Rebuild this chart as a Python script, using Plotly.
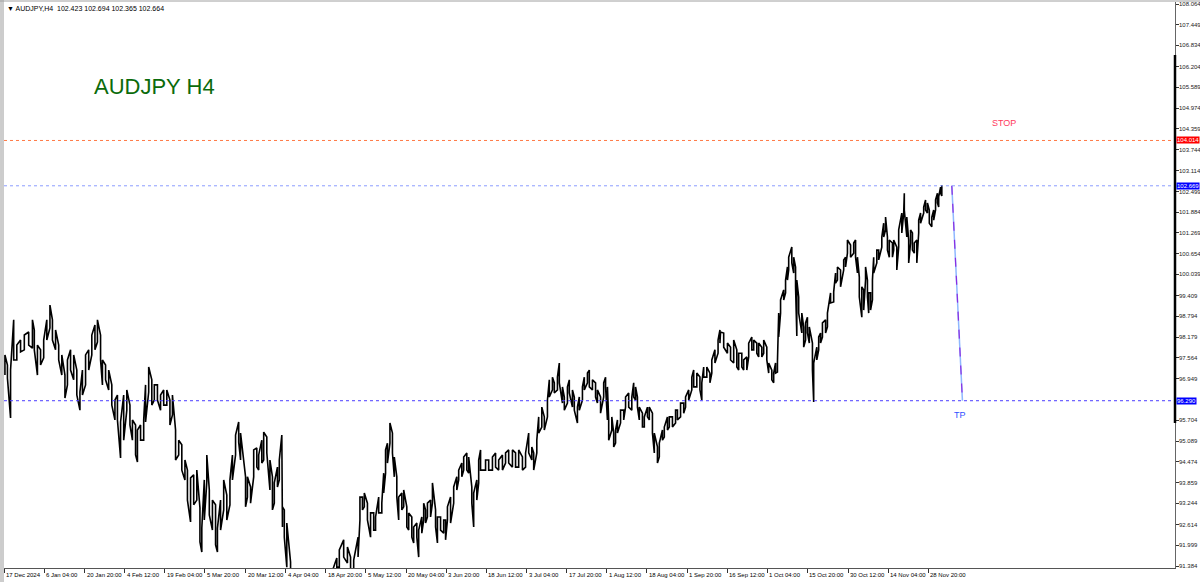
import plotly.graph_objects as go

# ---------------- data ----------------
symbol_title = "AUDJPY H4"
header_text = "AUDJPY,H4  102.423 102.694 102.365 102.664"

# H4 bar number of each sampled stretch of bars, with its high / low price
bar = [1, 5, 10, 15, 20, 26, 32, 39, 45, 48, 53, 58, 63, 68, 73, 77, 82, 87, 92, 97,
       101, 106, 111, 116, 121, 125, 130, 135, 140, 145, 149, 154, 157, 162, 167, 172, 177, 181, 186, 191,
       196, 201, 205, 210, 213, 218, 223, 226, 231, 236, 240, 245, 250, 255, 260, 265, 269, 274, 279, 284,
       289, 293, 298, 303, 308, 313, 316, 320, 324, 328, 333, 338, 341, 346, 351, 356, 361, 365, 370, 375,
       378, 386, 389, 394, 399, 404, 407, 412, 415, 420, 425, 429, 432, 437, 440, 444, 445, 448, 452,
       458, 464, 470, 478, 486, 494, 502, 510, 518, 526,
       532, 536, 543, 549, 554, 559, 566, 569, 573, 576, 581, 586, 591, 594, 599, 604, 607, 610, 613, 617,
       621, 624, 628, 631, 636, 639, 644, 647, 652, 655, 660, 663, 668, 671, 674, 677, 682, 685, 690, 693,
       698, 703, 706, 709, 714, 719, 724, 727, 732, 735, 740, 743, 748, 751, 756, 759,
       762, 770, 775, 781, 786, 791, 797, 802, 807, 813, 818, 823, 829, 834, 839, 844, 847, 852, 855, 860,
       864, 869, 872, 877, 880, 885, 888, 893, 896, 901, 904, 909, 912, 917, 920, 925, 928, 933, 936, 941,
       946, 949, 954, 959, 962, 965, 967, 972, 975, 978, 981, 986, 991, 994, 999, 1004, 1007, 1010, 1013, 1016,
       1021, 1024, 1029, 1032, 1037, 1040, 1045, 1048, 1053, 1056, 1061, 1064, 1069, 1074, 1077, 1082, 1087, 1090, 1095, 1100,
       1103, 1108, 1113, 1116, 1119, 1124, 1129, 1132, 1137, 1142, 1145,
       1146, 1151, 1157, 1162, 1167, 1172, 1175, 1180, 1183, 1188, 1191, 1196, 1199, 1204, 1207, 1212, 1215, 1220, 1223, 1228,
       1231, 1234, 1237, 1239, 1242, 1247, 1250, 1253, 1255, 1260, 1263, 1266, 1268, 1271, 1276, 1279, 1282, 1285, 1288, 1293,
       1295, 1300, 1303, 1306, 1309, 1314, 1317, 1322, 1327, 1330, 1333, 1338, 1343, 1346, 1349, 1354, 1359, 1362, 1365, 1368,
       1372, 1375, 1378, 1381, 1383, 1386, 1389, 1391, 1396, 1399, 1404, 1407, 1410, 1413, 1416, 1421, 1423, 1428, 1431, 1436,
       1439, 1440, 1444, 1447, 1450, 1453, 1456, 1460, 1463, 1466, 1471, 1474, 1477, 1480, 1484, 1487, 1490, 1493, 1495, 1498, 1500]

high = [97.65, 97.35, 97.20, 98.69, 97.94, 98.09, 98.24, 98.33, 98.69, 98.39, 97.94, 97.80, 98.09, 98.69, 99.13, 98.69, 98.39, 97.94, 97.65, 97.05,
        97.50, 97.80, 97.65, 97.20, 96.55, 97.20, 97.65, 97.80, 98.24, 98.54, 98.69, 98.24, 97.50, 97.35, 97.20, 96.76, 96.31, 96.46, 95.66, 96.46,
        96.61, 96.16, 95.72, 95.57, 95.42, 95.57, 95.72, 96.76, 97.29, 96.91, 96.76, 96.76, 96.46, 96.61, 96.61, 96.31, 96.46, 95.42, 95.12, 94.98,
        94.53, 94.23, 94.00, 94.09, 94.23, 93.11, 92.51, 93.94, 94.68, 93.64, 93.34, 93.20, 92.51, 93.34, 93.94, 93.49, 93.94, 94.68, 95.27, 95.66,
        95.33, 94.03, 94.03, 93.73, 94.83, 94.89, 94.68, 95.12, 95.36, 95.21, 94.53, 94.03, 93.85, 94.32, 94.53, 95.27, 93.14, 93.05, 92.66,
        91.50, 90.20, 88.50, 89.00, 89.80, 90.50, 90.90, 91.00, 91.20, 91.30,
        91.62, 91.86, 92.16, 91.95, 91.65, 91.56, 92.24, 93.43, 93.43, 93.55, 93.25, 92.96, 92.96, 92.84, 93.43, 93.25, 94.14, 94.83, 95.03, 95.63,
        95.33, 94.62, 94.03, 93.43, 93.55, 93.64, 93.14, 92.96, 92.84, 92.54, 92.66, 92.45, 92.84, 93.25, 93.05, 93.25, 93.34, 93.85, 93.05, 92.84,
        92.84, 92.75, 92.75, 93.14, 93.43, 93.73, 94.03, 94.23, 94.44, 94.62, 94.74, 94.62, 93.73, 93.55, 93.94, 94.53,
        94.83, 94.53, 94.53, 94.62, 94.74, 94.53, 94.68, 94.74, 94.83, 94.83, 94.74, 94.83, 94.62, 94.74, 95.33, 94.92, 94.74, 95.12, 95.81, 96.10,
        95.81, 96.31, 96.91, 96.99, 96.82, 96.99, 97.41, 96.70, 96.40, 96.70, 96.91, 96.61, 96.40, 96.10, 96.40, 96.70, 96.99, 97.11, 97.20, 96.91,
        96.82, 96.61, 96.40, 96.82, 96.99, 96.70, 95.72, 95.81, 95.33, 95.42, 95.72, 96.01, 96.01, 96.40, 96.52, 96.40, 96.82, 96.70, 96.40, 96.10,
        95.92, 95.81, 96.10, 96.10, 95.92, 95.33, 94.92, 95.03, 95.42, 95.51, 95.81, 95.81, 95.81, 96.01, 96.01, 96.22, 96.22, 96.40, 96.61, 96.99,
        97.20, 97.11, 96.99, 96.82, 97.29, 97.29, 97.11, 97.50, 97.80, 98.09, 98.39,
        98.33, 98.30, 98.00, 97.88, 98.09, 97.80, 97.70, 97.70, 97.50, 97.59, 98.00, 98.18, 98.09, 98.00, 98.00, 97.88, 98.09, 97.88, 97.41, 97.20,
        97.11, 97.41, 97.44, 98.89, 99.28, 99.58, 99.87, 100.26, 100.55, 100.85, 100.55, 100.26, 99.87, 99.37, 98.89, 98.48, 98.60, 98.77, 98.48, 98.00,
        97.41, 97.88, 98.18, 98.30, 98.60, 98.69, 98.89, 99.49, 99.52, 100.08, 100.26, 100.17, 100.47, 100.55, 101.06, 100.91, 100.97, 101.06, 100.55, 99.96,
        99.67, 99.58, 100.26, 99.87, 99.49, 99.49, 99.87, 100.55, 100.76, 100.76, 101.15, 101.56, 101.74, 101.15, 101.06, 100.97, 101.06, 100.85, 101.36, 101.86,
        102.25, 102.45, 101.74, 101.06, 101.36, 101.27, 100.97, 101.06, 101.65, 101.86, 102.04, 102.25, 102.16, 101.95, 101.74, 101.95, 102.25, 102.45, 102.34, 102.63, 102.694]

low = [97.05, 96.96, 95.78, 97.50, 97.50, 97.74, 97.80, 97.94, 97.85, 97.80, 97.05, 97.35, 97.56, 98.09, 98.45, 98.09, 97.80, 97.50, 97.05, 96.37,
       96.76, 97.20, 96.91, 96.46, 96.01, 96.46, 96.76, 97.20, 97.65, 97.80, 98.03, 97.50, 96.76, 96.91, 96.61, 96.16, 95.72, 95.72, 94.59, 95.12,
       96.01, 95.57, 95.12, 94.68, 94.47, 95.12, 95.12, 95.66, 96.55, 96.16, 96.31, 96.31, 96.01, 96.16, 96.16, 95.57, 95.87, 94.53, 94.68, 94.23,
       93.94, 93.34, 92.69, 93.20, 93.34, 92.10, 91.80, 92.75, 93.88, 92.90, 92.45, 92.01, 91.80, 92.45, 93.05, 92.75, 93.20, 93.94, 94.68, 95.06,
       94.53, 93.14, 93.43, 93.25, 94.03, 94.32, 94.23, 94.44, 94.53, 94.74, 93.64, 93.05, 93.25, 93.73, 93.94, 93.85, 92.54, 92.24, 91.35,
       89.80, 88.00, 86.20, 87.00, 88.20, 89.20, 89.60, 90.00, 90.20, 90.40,
       91.35, 91.35, 91.65, 91.47, 91.20, 91.20, 91.65, 92.75, 93.05, 93.14, 92.75, 92.24, 92.45, 92.45, 92.96, 92.96, 93.55, 94.14, 94.44, 95.03,
       94.74, 94.03, 93.43, 92.75, 93.05, 93.14, 92.54, 92.45, 92.24, 92.07, 92.24, 91.65, 92.36, 92.75, 92.66, 92.84, 92.84, 93.25, 92.54, 92.07,
       92.45, 92.36, 92.16, 92.75, 92.66, 93.25, 93.64, 93.94, 94.03, 94.23, 94.23, 94.14, 93.25, 92.54, 93.34, 93.85,
       94.23, 94.23, 94.23, 94.23, 94.32, 94.23, 94.23, 94.44, 94.44, 94.32, 94.32, 94.32, 94.23, 94.32, 94.74, 94.53, 94.23, 94.74, 95.33, 95.51,
       95.42, 95.81, 96.40, 96.61, 96.52, 96.61, 96.82, 96.22, 96.01, 96.22, 96.52, 96.10, 96.01, 95.63, 96.01, 96.31, 96.61, 96.82, 96.70, 96.61,
       96.40, 96.22, 95.92, 96.40, 96.70, 95.72, 95.12, 95.42, 94.92, 95.03, 95.33, 95.63, 95.72, 96.10, 96.10, 96.01, 96.40, 96.31, 96.10, 95.72,
       95.51, 95.51, 95.81, 95.72, 95.33, 94.74, 94.44, 94.62, 95.12, 95.21, 95.42, 95.51, 95.51, 95.63, 95.72, 95.81, 95.92, 96.10, 96.31, 96.61,
       96.70, 96.70, 96.61, 96.31, 96.99, 96.99, 96.82, 97.11, 97.41, 97.70, 98.00,
       98.00, 97.88, 97.70, 97.50, 97.41, 97.29, 97.20, 97.29, 97.20, 97.20, 97.59, 97.80, 97.80, 97.70, 97.59, 97.59, 97.70, 97.50, 97.11, 96.91,
       96.82, 97.11, 97.14, 98.18, 98.89, 99.28, 99.49, 99.87, 100.17, 100.38, 100.08, 99.67, 98.21, 98.89, 98.30, 97.88, 98.09, 98.30, 98.00, 97.20,
       96.25, 97.50, 97.80, 98.00, 98.18, 98.30, 98.48, 99.19, 99.22, 99.78, 99.87, 99.67, 100.17, 100.26, 100.67, 100.55, 100.67, 100.55, 100.08, 99.37,
       98.77, 98.98, 99.87, 99.37, 98.89, 98.98, 99.28, 100.08, 100.38, 100.47, 100.85, 101.15, 101.36, 100.76, 100.55, 100.55, 100.76, 100.17, 100.85, 101.27,
       101.86, 101.95, 101.15, 100.38, 100.97, 100.76, 100.67, 100.38, 101.27, 101.56, 101.86, 101.95, 101.86, 101.56, 101.45, 101.65, 101.95, 102.16, 102.04, 102.45, 102.365]

# horizontal levels
stop_level = 104.014
entry_level = 102.669
tp_level = 96.290
# projected move (bar, price)
proj_bar = [1516, 1533]
proj_price = [102.669, 96.290]
stop_label_pos = (1599, 104.53)
tp_label_pos = (1529, 95.86)
# highlighted stretch of the price scale
scale_marker = (95.63, 106.55)

# price scale ticks
y_ticks = [108.064, 107.449, 106.834, 106.204, 105.589, 104.974, 104.359, 103.744, 103.114,
           102.499, 101.884, 101.269, 100.654, 100.039, 99.409, 98.794, 98.179, 97.564, 96.949,
           95.704, 95.089, 94.474, 93.859, 93.244, 92.614, 91.999, 91.384]
# time scale labels and the bar each one marks
time_labels = ["17 Dec 2024", "6 Jan 04:00", "20 Jan 20:00", "4 Feb 12:00", "19 Feb 04:00",
               "5 Mar 20:00", "20 Mar 12:00", "4 Apr 04:00", "18 Apr 20:00", "5 May 12:00",
               "20 May 04:00", "3 Jun 20:00", "18 Jun 12:00", "3 Jul 04:00", "17 Jul 20:00",
               "1 Aug 12:00", "18 Aug 04:00", "1 Sep 20:00", "16 Sep 12:00", "1 Oct 04:00",
               "15 Oct 20:00", "30 Oct 12:00", "14 Nov 04:00", "28 Nov 20:00"]
time_label_bars = [0, 64, 129, 193, 257, 321, 386, 450, 514, 578, 643, 707,
                   771, 836, 900, 964, 1028, 1093, 1157, 1221, 1285, 1350, 1414, 1478]

x_range = [-0.5, 1873.1]
y_range = [91.325, 108.124]

# ---------------- figure ----------------
FONT = "Liberation Sans"
fig = go.Figure()

# price path: vertical high-low stroke at every sample, joined alternately
px, py = [], []
for i, (b, h, l) in enumerate(zip(bar, high, low)):
    px += [b, b]
    py += ([l, h] if i % 2 == 0 else [h, l])
fig.add_trace(go.Scatter(x=px, y=py, mode="lines", line=dict(color="black", width=1.6),
                         hoverinfo="skip", showlegend=False))

# horizontal levels
for lvl, col in [(stop_level, "#ff7a45"), (entry_level, "#8c9cff"), (tp_level, "#4b3cff")]:
    fig.add_shape(type="line", xref="paper", x0=0, x1=1, yref="y", y0=lvl, y1=lvl,
                  line=dict(color=col, width=1, dash="dot"), layer="above")

# projection line
fig.add_trace(go.Scatter(x=proj_bar, y=proj_price, mode="lines",
                         line=dict(color="#8fb8ff", width=1.5), hoverinfo="skip", showlegend=False))
fig.add_trace(go.Scatter(x=proj_bar, y=proj_price, mode="lines",
                         line=dict(color="#8a2be2", width=1.2, dash="dash"), hoverinfo="skip", showlegend=False))

ann = []
ann.append(dict(x=stop_label_pos[0], y=stop_label_pos[1], text="STOP", showarrow=False,
                font=dict(family=FONT, size=9, color="#ff3a5c")))
ann.append(dict(x=tp_label_pos[0], y=tp_label_pos[1], text="TP", showarrow=False,
                font=dict(family=FONT, size=9, color="#3050ff")))
ann.append(dict(xref="paper", yref="paper", x=0.0752, y=0.850, xanchor="left", yanchor="middle",
                text=symbol_title, showarrow=False, font=dict(family=FONT, size=22, color="#0b6b0b")))
ann.append(dict(xref="paper", yref="paper", x=0.0, y=1, xanchor="left", yanchor="top", yshift=-1, xshift=1,
                text="▼ " + header_text, showarrow=False, font=dict(family=FONT, size=7, color="black")))
# price scale labels (left aligned beside the scale)
for v in y_ticks:
    ann.append(dict(xref="paper", yref="y", x=1, y=v, xanchor="left", yanchor="middle", xshift=2,
                    text=f"{v:.3f}", showarrow=False,
                    font=dict(family=FONT, size=6, color="#222")))
# coloured price tags on the scale
for lvl, bg in [(stop_level, "#ff0000"), (entry_level, "#0000ff"), (tp_level, "#0000ff")]:
    ann.append(dict(xref="paper", yref="y", x=1, y=lvl, xanchor="left", yanchor="middle", xshift=1,
                    text=f"{lvl:.3f}", showarrow=False, bgcolor=bg, borderpad=0,
                    font=dict(family=FONT, size=6, color="white")))
# time labels (left aligned after the tick, as in the terminal)
for b, t in zip(time_label_bars, time_labels):
    ann.append(dict(xref="x", yref="paper", x=b, y=0, xanchor="left", yanchor="top",
                    xshift=0, yshift=-2, text=t, showarrow=False,
                    font=dict(family=FONT, size=6, color="black")))

fig.update_layout(
    width=1200, height=582,
    margin=dict(l=4, r=25, t=2, b=14),
    paper_bgcolor="white", plot_bgcolor="white",
    annotations=ann,
    xaxis=dict(range=x_range, showgrid=False, zeroline=False, automargin=False,
               tickvals=time_label_bars, ticktext=[""] * len(time_label_bars),
               ticks="outside", ticklen=4, tickcolor="#333",
               showline=True, linecolor="#555", linewidth=1, mirror=False),
    yaxis=dict(range=y_range, side="right", showgrid=False, zeroline=False, automargin=False,
               tickvals=y_ticks, showticklabels=False,
               ticks="outside", ticklen=3, tickcolor="#333",
               showline=True, linecolor="#666", linewidth=1),
)
# highlighted stretch on the price scale
fig.add_shape(type="line", xref="paper", yref="y", x0=1, x1=1, y0=scale_marker[0], y1=scale_marker[1],
              line=dict(color="black", width=2.5), layer="above")
# window frame on left and top
for xp in (-3 / 1171, -1 / 1171):
    fig.add_shape(type="line", xref="paper", yref="paper", x0=xp, x1=xp, y0=-14 / 566, y1=1 + 2 / 566,
                  line=dict(color="#9a9a9a", width=1))
fig.add_shape(type="line", xref="paper", yref="paper", x0=-4 / 1171, x1=1 + 25 / 1171,
              y0=1 + 1 / 566, y1=1 + 1 / 566, line=dict(color="#a0a0a0", width=1))

fig.write_html("out.html")
